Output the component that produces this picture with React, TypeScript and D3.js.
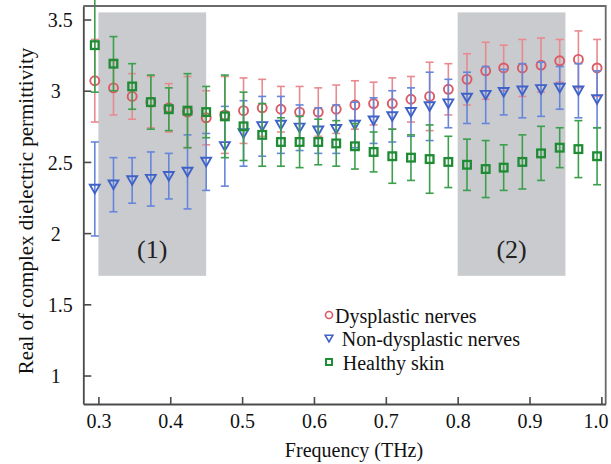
import React, { useRef, useEffect } from 'react';
import * as d3 from 'd3';

// frequency points (THz)
const freqs = [
  0.295, 0.321, 0.347, 0.373, 0.398, 0.424, 0.45, 0.476, 0.502, 0.528,
  0.554, 0.58, 0.606, 0.631, 0.657, 0.683, 0.709, 0.735, 0.761, 0.787,
  0.813, 0.839, 0.864, 0.89, 0.916, 0.942, 0.968, 0.994,
];

const dysplasticMean = [
  3.07, 3.02, 2.96, 2.92, 2.88, 2.85, 2.81, 2.83, 2.86, 2.88,
  2.87, 2.85, 2.85, 2.87, 2.9, 2.91, 2.91, 2.94, 2.96, 3.01,
  3.08, 3.14, 3.16, 3.16, 3.18, 3.21, 3.22, 3.16,
];
const dysplasticErr = [
  0.29, 0.19, 0.16, 0.18, 0.17, 0.25, 0.19, 0.27, 0.23, 0.2,
  0.16, 0.18, 0.17, 0.17, 0.17, 0.15, 0.18, 0.16, 0.24, 0.18,
  0.18, 0.2, 0.16, 0.2, 0.19, 0.15, 0.2, 0.2,
];

const nonDysplasticMean = [
  2.31, 2.34, 2.37, 2.38, 2.4, 2.43, 2.5, 2.61, 2.7, 2.75,
  2.76, 2.74, 2.72, 2.73, 2.76, 2.79, 2.82, 2.85, 2.89, 2.91,
  2.95, 2.97, 2.99, 3.0, 3.01, 3.02, 3.0, 2.94,
];
const nonDysplasticErr = [
  0.33, 0.19, 0.16, 0.19, 0.16, 0.26, 0.2, 0.28, 0.23, 0.21,
  0.2, 0.16, 0.16, 0.17, 0.16, 0.16, 0.18, 0.17, 0.24, 0.17,
  0.18, 0.2, 0.16, 0.19, 0.19, 0.15, 0.19, 0.2,
];

const healthyMean = [
  3.32, 3.19, 3.03, 2.92, 2.87, 2.86, 2.85, 2.82, 2.75, 2.69,
  2.64, 2.64, 2.64, 2.63, 2.61, 2.57, 2.54, 2.53, 2.52, 2.5,
  2.48, 2.45, 2.46, 2.5, 2.56, 2.6, 2.59, 2.54,
];
const healthyErr = [
  0.33, 0.19, 0.16, 0.19, 0.15, 0.26, 0.18, 0.29, 0.24, 0.22,
  0.17, 0.18, 0.16, 0.16, 0.16, 0.14, 0.19, 0.16, 0.24, 0.18,
  0.18, 0.2, 0.16, 0.19, 0.19, 0.14, 0.2, 0.2,
];

const xTicks = [0.3, 0.4, 0.5, 0.6, 0.7, 0.8, 0.9, 1.0];
const yTicks = [1, 1.5, 2, 2.5, 3, 3.5];

// shaded frequency bands
const bands = [
  { label: '(1)', x0: 0.3, x1: 0.45 },
  { label: '(2)', x0: 0.8, x1: 0.95 },
];
const bandY = [1.7, 3.55];

const series = [
  { name: 'Dysplastic nerves', mean: dysplasticMean, err: dysplasticErr, marker: 'circle', stroke: '#db5a63', bar: '#e88a8f' },
  { name: 'Non-dysplastic nerves', mean: nonDysplasticMean, err: nonDysplasticErr, marker: 'triangle', stroke: '#3f62c8', bar: '#6586da' },
  { name: 'Healthy skin', mean: healthyMean, err: healthyErr, marker: 'square', stroke: '#1f8c35', bar: '#3c9f4c' },
];

const FONT = '"Liberation Serif", "Times New Roman", serif';

function drawMarker(g, type, size, color, sw) {
  if (type === 'circle') {
    g.append('circle').attr('r', size / 2).attr('fill', 'none').attr('stroke', color).attr('stroke-width', sw);
  } else if (type === 'triangle') {
    const w = size * 1.1;
    g.append('path')
      .attr('d', `M${-w / 2},${-w * 0.42}L${w / 2},${-w * 0.42}L0,${w * 0.45}Z`)
      .attr('fill', 'none').attr('stroke', color).attr('stroke-width', sw).attr('stroke-linejoin', 'miter');
  } else {
    const s = size * 0.85;
    g.append('rect').attr('x', -s / 2).attr('y', -s / 2).attr('width', s).attr('height', s)
      .attr('fill', 'none').attr('stroke', color).attr('stroke-width', sw + 0.4);
  }
}

export default function App() {
  const ref = useRef(null);

  useEffect(() => {
    const svg = d3.select(ref.current);
    svg.selectAll('*').remove();

    const width = 611;
    const height = 464;
    const margin = { top: 6, right: 5.3, bottom: 60, left: 83.3 };

    const x = d3.scaleLinear().domain([0.279, 1.006]).range([margin.left, width - margin.right]);
    const y = d3.scaleLinear().domain([0.8, 3.595]).range([height - margin.bottom, margin.top]);

    svg.attr('viewBox', `0 0 ${width} ${height}`);
    svg.append('rect').attr('width', width).attr('height', height).attr('fill', '#fff');

    // shaded bands
    svg.selectAll('.band')
      .data(bands)
      .join('rect')
      .attr('class', 'band')
      .attr('x', d => x(d.x0))
      .attr('y', y(bandY[1]))
      .attr('width', d => x(d.x1) - x(d.x0))
      .attr('height', y(bandY[0]) - y(bandY[1]))
      .attr('fill', '#c9cbcf');

    svg.selectAll('.band-label')
      .data(bands)
      .join('text')
      .attr('class', 'band-label')
      .attr('x', d => (x(d.x0) + x(d.x1)) / 2)
      .attr('y', y(bandY[0]) - 18)
      .attr('text-anchor', 'middle')
      .attr('font-family', FONT)
      .attr('font-size', 26)
      .attr('fill', '#222')
      .text(d => d.label);

    // error bars + markers
    const cap = 4;
    series.forEach(s => {
      const g = svg.append('g');
      freqs.forEach((f, i) => {
        const cx = x(f);
        const top = y(s.mean[i] + s.err[i]);
        const bot = y(s.mean[i] - s.err[i]);
        g.append('line').attr('x1', cx).attr('x2', cx).attr('y1', top).attr('y2', bot)
          .attr('stroke', s.bar).attr('stroke-width', 1.6);
        g.append('line').attr('x1', cx - cap).attr('x2', cx + cap).attr('y1', top).attr('y2', top)
          .attr('stroke', s.bar).attr('stroke-width', 1.6);
        g.append('line').attr('x1', cx - cap).attr('x2', cx + cap).attr('y1', bot).attr('y2', bot)
          .attr('stroke', s.bar).attr('stroke-width', 1.6);
      });
      freqs.forEach((f, i) => {
        const m = g.append('g').attr('transform', `translate(${x(f)},${y(s.mean[i])})`);
        drawMarker(m, s.marker, 9, s.stroke, 1.9);
      });
    });

    // X axis
    const xAxis = svg.append('g')
      .attr('transform', `translate(0,${height - margin.bottom})`)
      .call(d3.axisBottom(x).tickValues(xTicks).tickFormat(d3.format('.1f')).tickSizeInner(-7).tickSizeOuter(0).tickPadding(10));
    xAxis.select('.domain').attr('stroke', '#4a4a4a').attr('stroke-width', 1.8);
    xAxis.selectAll('.tick line').attr('stroke', '#4a4a4a').attr('stroke-width', 1.6);
    xAxis.selectAll('text')
      .attr('font-family', FONT).attr('font-size', 20).attr('fill', '#111')
      .attr('dx', d => (d === 1 ? -6 : 0));

    // Y axis
    const yAxis = svg.append('g')
      .attr('transform', `translate(${margin.left},0)`)
      .call(d3.axisLeft(y).tickValues(yTicks).tickFormat(d => (d % 1 ? d3.format('.1f')(d) : String(d))).tickSizeInner(-8).tickSizeOuter(0).tickPadding(10.5));
    yAxis.select('.domain').attr('stroke', '#4a4a4a').attr('stroke-width', 1.8);
    yAxis.selectAll('.tick line').attr('stroke', '#4a4a4a').attr('stroke-width', 1.6);
    yAxis.selectAll('text')
      .attr('font-family', FONT).attr('font-size', 20).attr('fill', '#111').attr('dy', '0.36em')
      .attr('x', d => (d % 1 ? -10.5 : -22.5));

    // top + right frame
    svg.append('path')
      .attr('d', `M${margin.left},${margin.top}H${width - margin.right}V${height - margin.bottom}`)
      .attr('fill', 'none').attr('stroke', '#6a6a6a').attr('stroke-width', 1.8);

    // axis titles
    svg.append('text')
      .attr('x', 354).attr('y', 457)
      .attr('text-anchor', 'middle')
      .attr('font-family', FONT).attr('font-size', 20).attr('fill', '#111')
      .text('Frequency (THz)');
    svg.append('text')
      .attr('transform', `translate(33,${(y(bandY[0]) + margin.top) / 2 + 70}) rotate(-90)`)
      .attr('text-anchor', 'middle')
      .attr('font-family', FONT).attr('font-size', 21).attr('fill', '#111')
      .text('Real of complex dielectric permittivity');

    // legend
    const legend = svg.append('g').attr('transform', 'translate(329,315)');
    const textX = [6, 12.7, 13.7];
    series.forEach((s, i) => {
      const row = legend.append('g').attr('transform', `translate(0,${i * 23.5})`);
      drawMarker(row, s.marker, 7, s.stroke, 1.6);
      row.append('text')
        .attr('x', textX[i]).attr('y', 7.5)
        .attr('font-family', FONT).attr('font-size', 20).attr('fill', '#111')
        .text(s.name);
    });
  }, []);

  return (
    <svg
      ref={ref}
      width={611}
      height={464}
      style={{ position: 'absolute', left: 0, top: 0, display: 'block' }}
    />
  );
}
